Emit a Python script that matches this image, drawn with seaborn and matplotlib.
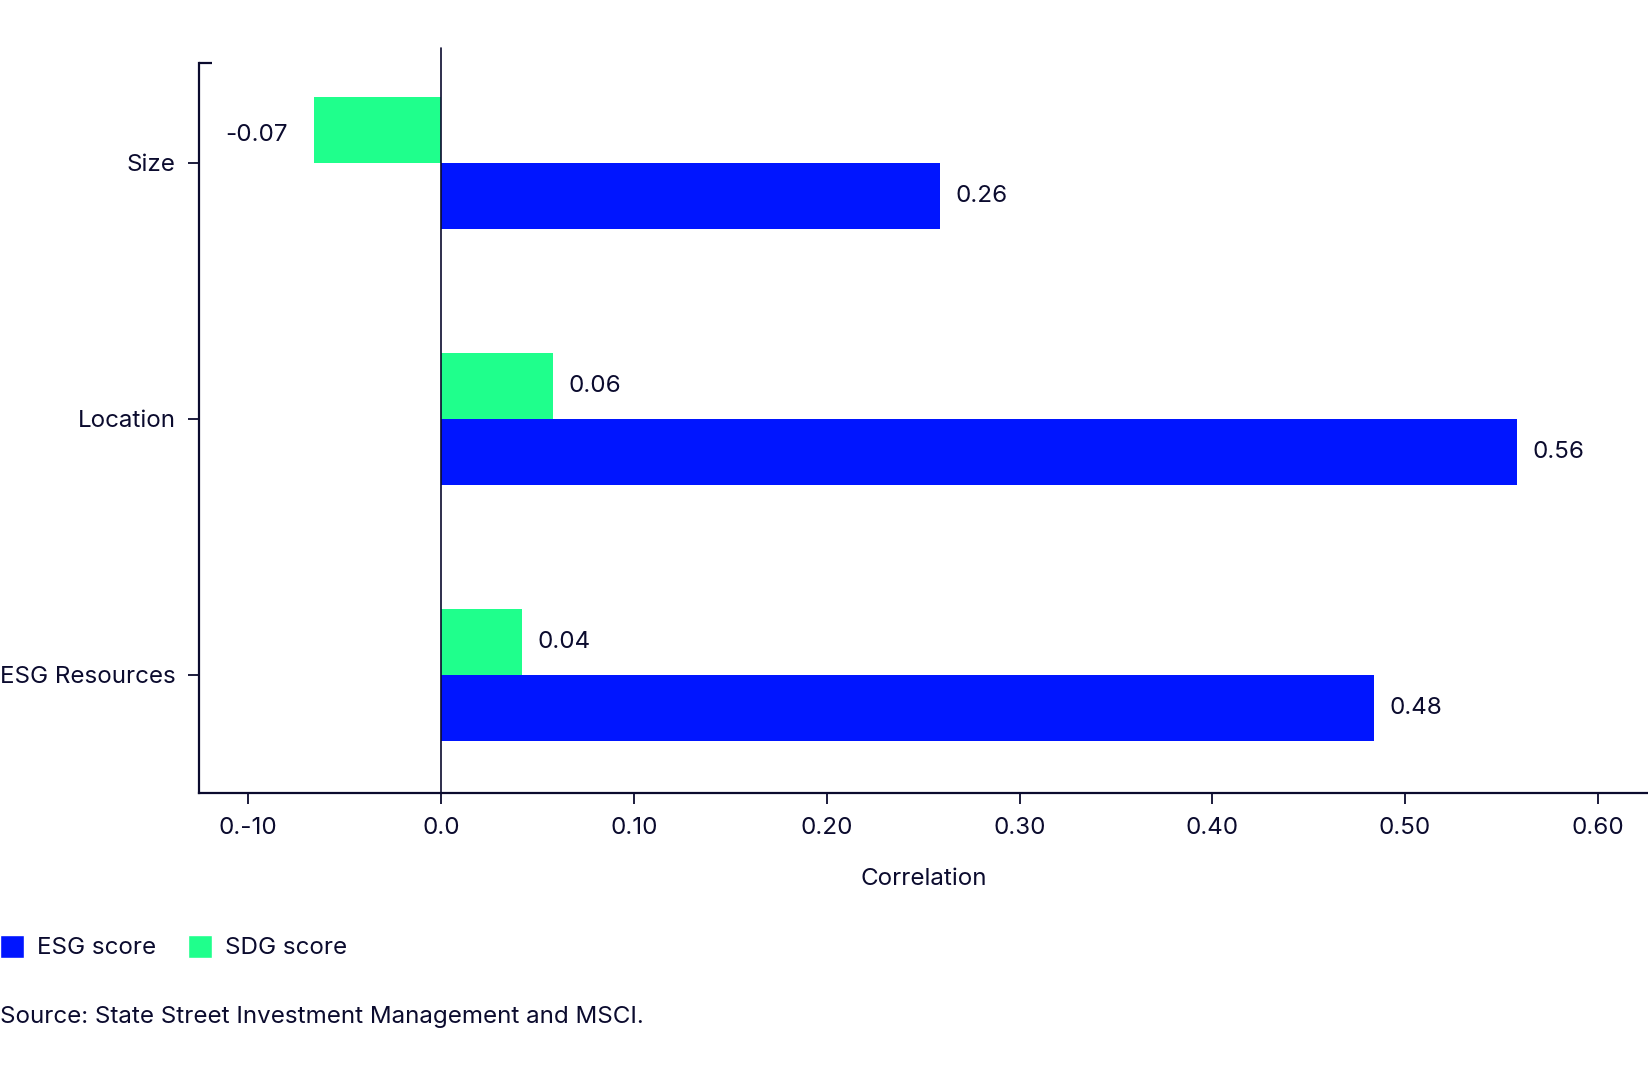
import numpy as np
import matplotlib.pyplot as plt
import pandas as pd
import seaborn as sns
from matplotlib.patches import Patch

factors = ['Size', 'Location', 'ESG Resources']
esg_score = [0.259, 0.558, 0.484]
sdg_score = [-0.066, 0.058, 0.042]
xtick_vals = [-0.10, 0.0, 0.10, 0.20, 0.30, 0.40, 0.50, 0.60]
xtick_labels = ['0.-10', '0.0', '0.10', '0.20', '0.30', '0.40', '0.50', '0.60']

navy = '#0b0b2e'
blue = '#0015ff'
green = '#1fff8c'

df = pd.DataFrame({
    'factor': factors * 2,
    'value': esg_score + sdg_score,
    'series': ['ESG score'] * 3 + ['SDG score'] * 3,
})

sns.set_style('white')
plt.rcParams['font.family'] = ['Inter', 'DejaVu Sans']
plt.rcParams['text.color'] = navy
plt.rcParams['axes.labelcolor'] = navy
plt.rcParams['xtick.color'] = navy
plt.rcParams['ytick.color'] = navy

fs = 17.4
fig = plt.figure(figsize=(16.48, 10.8), dpi=100)
ax = fig.add_axes([199 / 1648, 1 - 793 / 1080, 1 - 199 / 1648, (793 - 63) / 1080])

sns.barplot(data=df, y='factor', x='value', hue='series', orient='h',
            hue_order=['SDG score', 'ESG score'], order=factors,
            palette={'ESG score': blue, 'SDG score': green},
            width=0.516, linewidth=0, saturation=1, legend=False, ax=ax)

ax.set_xlim(-0.1256, 0.626)
ax.set_ylim(2.461, -0.39)

# value labels
for cont in ax.containers:
    for bar in cont:
        v = bar.get_width()
        y = bar.get_y() + bar.get_height() / 2
        if v >= 0:
            ax.annotate(f'{v:.2f}', xy=(v, y), xytext=(11, 0), textcoords='offset points',
                        ha='left', va='center', fontsize=fs, color=navy)
        else:
            ax.annotate(f'{v:.2f}', xy=(v, y), xytext=(-19, -4), textcoords='offset points',
                        ha='right', va='center', fontsize=fs, color=navy)

# zero line, runs a bit above the axes
ax.axvline(0, ymin=0, ymax=1 + 15 / 730, color=navy, lw=1.2, clip_on=False, zorder=5)
# small cap at top of left spine
ax.plot([0, 13 / 1449], [1, 1], transform=ax.transAxes, color=navy, lw=1.6,
        clip_on=False, solid_capstyle='butt')

for s in ['top', 'right']:
    ax.spines[s].set_visible(False)
for s in ['left', 'bottom']:
    ax.spines[s].set_color(navy)
    ax.spines[s].set_linewidth(1.6)

ax.set_xticks(xtick_vals)
ax.set_xticklabels(xtick_labels)
ax.tick_params(axis='both', direction='out', length=8, width=1.3, labelsize=fs, pad=9,
               left=True, bottom=True)
ax.set_ylabel('')
ax.set_xlabel('Correlation', fontsize=fs, labelpad=21)

handles = [Patch(facecolor=blue, label='ESG score'), Patch(facecolor=green, label='SDG score')]
fig.legend(handles=handles, loc='center left', bbox_to_anchor=(0, 1 - 947 / 1080), ncol=2,
           frameon=False, fontsize=fs, handlelength=1.0, handleheight=1.1,
           handletextpad=0.55, columnspacing=1.3, borderpad=0, borderaxespad=0)

fig.text(0, 1 - 1017 / 1080, 'Source: State Street Investment Management and MSCI.',
         fontsize=fs, va='center', ha='left', color=navy)

fig.savefig('out.png', dpi=100)
